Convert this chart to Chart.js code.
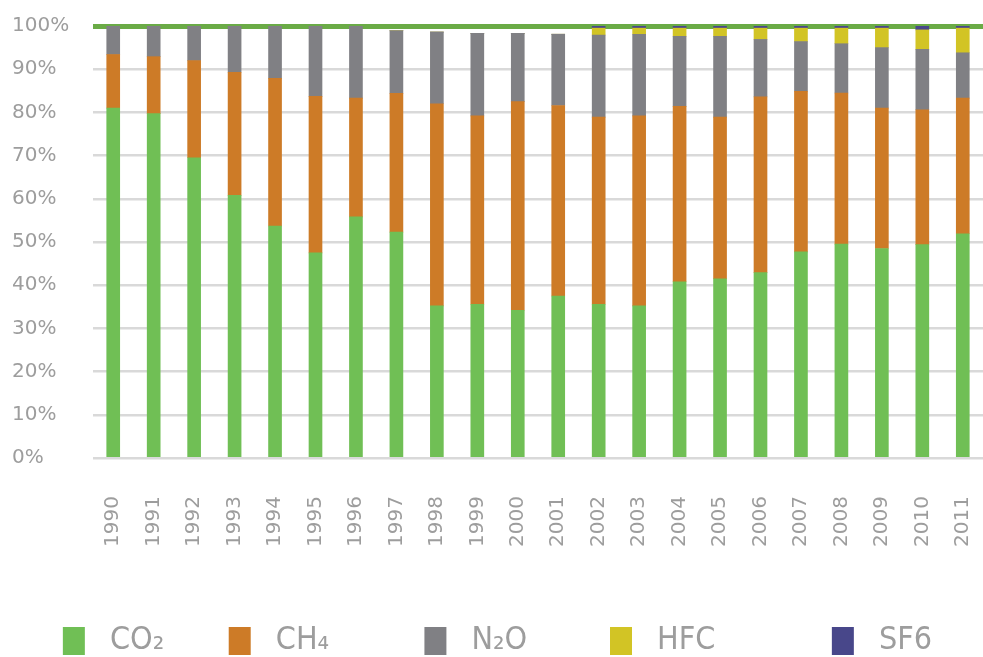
<!DOCTYPE html>
<html>
<head>
<meta charset="utf-8">
<script src="https://cdn.jsdelivr.net/npm/chart.js@4/dist/chart.umd.min.js"></script>
<style>
  html, body { margin: 0; padding: 0; background: #fff; }
  #wrap { width: 983px; height: 657px; }
</style>
</head>
<body>
<div id="wrap"><canvas id="c" width="983" height="657"></canvas></div>
<script>
  const years = ['1990','1991','1992','1993','1994','1995','1996','1997','1998','1999','2000',
                 '2001','2002','2003','2004','2005','2006','2007','2008','2009','2010','2011'];
  // shares in %
  const co2 = [81.0,79.7,69.5,60.8,53.7,47.5,55.8,52.3,35.2,35.6,34.2,37.5,35.6,35.2,40.8,41.5,42.9,47.7,49.5,48.5,49.4,51.9];
  const ch4 = [12.4,13.2,22.5,28.5,34.2,36.2,27.5,32.1,46.8,43.6,48.3,44.1,43.3,44.0,40.6,37.4,40.7,37.2,35.0,32.5,31.2,31.4];
  const n2o = [6.6,7.1,8.0,10.7,12.1,16.3,16.7,14.5,16.6,19.1,15.8,16.5,19.0,18.9,16.2,18.7,13.3,11.5,11.4,14.0,14.0,10.5];
  const hfc = [0,0,0,0,0,0,0,0,0,0,0,0,1.6,1.4,1.9,1.9,2.6,3.1,3.6,4.5,4.5,5.7];
  const sf6 = [0,0,0,0,0,0,0,0,0,0,0,0,0.5,0.5,0.5,0.5,0.5,0.5,0.5,0.5,0.9,0.5];
  const names = ['CO\u2082','CH\u2084','N\u2082O','HFC','SF6'];
  const colors = ['#70bf55','#cd7b27','#808084','#d2c425','#48478a'];

  const txt = '#9d9d9d';
  const legendFamily = "'Liberation Sans Narrow', 'DejaVu Sans Condensed', sans-serif";
  // distance from one legend box to the next, as in the picture
  const legendGaps = [166, 196, 186, 222, 90];

  const mctx = document.createElement('canvas').getContext('2d');
  mctx.font = '32px ' + legendFamily;
  function padTo(s, w){
    s = ' ' + s;
    while (mctx.measureText(s + ' ').width <= w) s += ' ';
    while (mctx.measureText(s + '\u200A').width <= w) s += '\u200A';
    return s;
  }

  const series = [co2, ch4, n2o, hfc, sf6];
  const datasets = series.map((d, i) => ({
    label: names[i],
    data: d,
    backgroundColor: colors[i],
    borderWidth: 0,
    barThickness: 13
  }));

  new Chart(document.getElementById('c'), {
    type: 'bar',
    data: { labels: years, datasets },
    options: {
      responsive: false,
      animation: false,
      layout: { padding: { top: 26, left: 12, right: 0, bottom: -10 } },
      plugins: {
        tooltip: { enabled: false },
        legend: {
          position: 'bottom',
          labels: {
            color: txt,
            font: { family: legendFamily, size: 32 },
            boxWidth: 22,
            boxHeight: 28,
            padding: 1,
            generateLabels: chart => chart.data.datasets.map((ds, i) => ({
              text: padTo(ds.label, legendGaps[i] - 1 - 22 - 16),
              fillStyle: ds.backgroundColor,
              strokeStyle: ds.backgroundColor,
              lineWidth: 0,
              fontColor: txt,
              datasetIndex: i,
              hidden: false
            }))
          }
        }
      },
      scales: {
        x: {
          stacked: true,
          grid: { display: false },
          border: { display: false },
          ticks: {
            color: txt,
            font: { family: 'DejaVu Sans', size: 20 },
            minRotation: 90, maxRotation: 90,
            autoSkip: false,
            padding: 30
          },
          afterFit: s => { s.height = 166; s.paddingLeft = 0; s.paddingRight = 0; }
        },
        y: {
          stacked: true,
          min: 0, max: 100,
          z: 1,
          border: { display: false },
          grid: {
            drawTicks: false,
            color: c => c.tick && c.tick.value === 100 ? '#6aab46' : 'rgba(0,0,0,0.15)',
            lineWidth: c => c.tick && c.tick.value === 100 ? 5 : 2.5
          },
          ticks: {
            stepSize: 10,
            color: txt,
            crossAlign: 'far',
            font: { family: 'DejaVu Sans', size: 20 },
            callback: v => v + '%'
          },
          afterFit: s => { s.width = 81; s.paddingTop = 0; s.paddingBottom = 0; }
        }
      }
    }
  });
</script>
</body>
</html>
